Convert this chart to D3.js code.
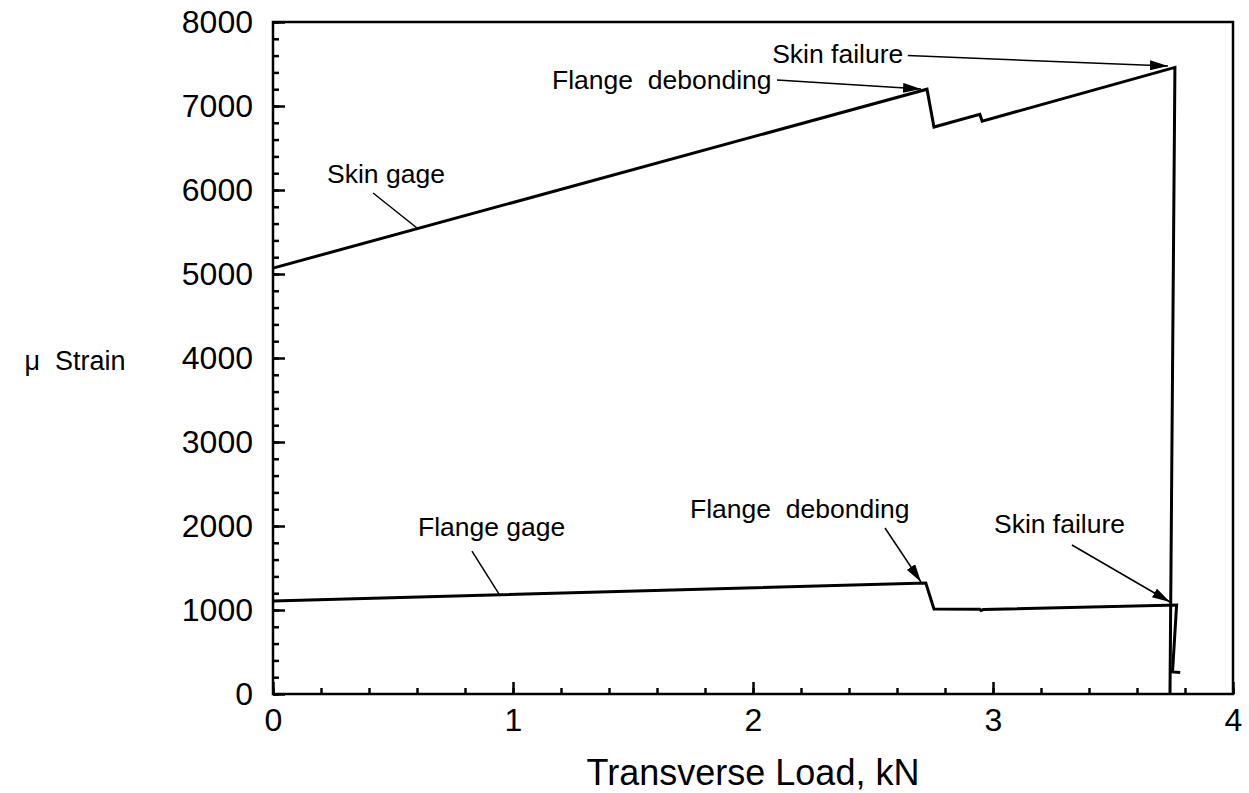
<!DOCTYPE html>
<html>
<head>
<meta charset="utf-8">
<script src="https://cdn.jsdelivr.net/npm/d3@7"></script>
<style>
  body { margin: 0; background: #fff; }
  text { font-family: "Liberation Sans", Arial, sans-serif; fill: #000; }
</style>
</head>
<body>
<div id="chart"></div>
<script>
// Skin gage trace (load kN, micro strain)
const skinLoad   = [0, 2.725, 2.754, 2.945, 2.955, 3.758, 3.7375];
const skinStrain = [5070, 7200, 6750, 6900, 6820, 7460, 0];

// Flange gage trace
const flangeLoad   = [0, 2.72, 2.754, 2.945, 2.95, 2.96, 3.765, 3.748, 3.78];
const flangeStrain = [1107, 1320, 1012, 1010, 995, 1005, 1060, 262, 255];

const xTicks = [0, 1, 2, 3, 4];
const yTicks = [0, 1000, 2000, 3000, 4000, 5000, 6000, 7000, 8000];

// annotations: label, text anchor (load, strain), pointer from -> to, arrowhead?
const annoText  = ["Flange\u00a0 debonding", "Skin failure", "Skin gage", "Flange gage", "Flange\u00a0 debonding", "Skin failure"];
const annoPos   = [[1.1625, 7202], [2.08, 7512], [0.225, 6083], [0.604, 1881], [1.7375, 2095], [3.004, 1917]];
const annoFrom  = [[2.1, 7310], [2.645, 7600], [0.417, 5964], [0.829, 1702], [2.55, 1976], [3.329, 1774]];
const annoTo    = [[2.7, 7202], [3.729, 7476], [0.6, 5548], [0.942, 1190], [2.7, 1333], [3.7375, 1095]];
const annoArrow = [true, true, false, false, true, true];

const W = 1249, H = 793;
const margin = {top: 22, right: 16, bottom: 99, left: 273};
const width = W - margin.left - margin.right,
      height = H - margin.top - margin.bottom;

const svg = d3.select("#chart").append("svg")
    .attr("width", W).attr("height", H);

svg.append("defs").append("marker")
    .attr("id", "head")
    .attr("viewBox", "0 0 18 10")
    .attr("refX", 18).attr("refY", 5)
    .attr("markerWidth", 18).attr("markerHeight", 10)
    .attr("markerUnits", "userSpaceOnUse")
    .attr("orient", "auto")
  .append("path")
    .attr("d", "M0,0 L18,5 L0,10 Z")
    .attr("fill", "#000");

const g = svg.append("g")
    .attr("transform", "translate(" + margin.left + "," + margin.top + ")");

const x = d3.scaleLinear().domain([0, 4]).range([0, width]);
const y = d3.scaleLinear().domain([0, 8000]).range([height, 0]);

// minor ticks
g.append("g")
    .attr("transform", "translate(0," + height + ")")
    .call(d3.axisBottom(x).tickValues(d3.range(0, 4.01, 0.2)).tickSize(-6).tickFormat(""))
    .call(a => a.select(".domain").remove())
    .selectAll("line").attr("stroke-width", 2.5);
g.append("g")
    .call(d3.axisLeft(y).tickValues(d3.range(0, 8001, 200)).tickSize(-6).tickFormat(""))
    .call(a => a.select(".domain").remove())
    .selectAll("line").attr("stroke-width", 2.5);

// major ticks with labels
const xAxis = g.append("g")
    .attr("transform", "translate(0," + height + ")")
    .call(d3.axisBottom(x).tickValues(xTicks).tickSize(-12).tickPadding(14).tickFormat(d3.format("d")));
xAxis.select(".domain").remove();
xAxis.selectAll("line").attr("stroke-width", 2.5);
xAxis.selectAll("text").attr("font-size", 32).attr("font-family", null);

const yAxis = g.append("g")
    .call(d3.axisLeft(y).tickValues(yTicks).tickSize(-12).tickPadding(20).tickFormat(d3.format("d")));
yAxis.select(".domain").remove();
yAxis.selectAll("line").attr("stroke-width", 2.5);
yAxis.selectAll("text").attr("font-size", 32).attr("font-family", null);

// frame
g.append("rect")
    .attr("width", width).attr("height", height)
    .attr("fill", "none").attr("stroke", "#000").attr("stroke-width", 2.5);

// traces
const line = d3.line().x(d => x(d[0])).y(d => y(d[1]));
g.append("path")
    .datum(d3.zip(skinLoad, skinStrain))
    .attr("d", line)
    .attr("fill", "none").attr("stroke", "#000").attr("stroke-width", 3)
    .attr("stroke-linejoin", "miter");
g.append("path")
    .datum(d3.zip(flangeLoad, flangeStrain))
    .attr("d", line)
    .attr("fill", "none").attr("stroke", "#000").attr("stroke-width", 3)
    .attr("stroke-linejoin", "miter");

// annotations
annoText.forEach((t, i) => {
  g.append("text")
      .attr("x", x(annoPos[i][0])).attr("y", y(annoPos[i][1]))
      .attr("font-size", 26.5)
      .style("white-space", "pre")
      .text(t);
  g.append("line")
      .attr("x1", x(annoFrom[i][0])).attr("y1", y(annoFrom[i][1]))
      .attr("x2", x(annoTo[i][0])).attr("y2", y(annoTo[i][1]))
      .attr("stroke", "#000").attr("stroke-width", 1.5)
      .attr("marker-end", annoArrow[i] ? "url(#head)" : null);
});

// axis titles
svg.append("text")
    .attr("x", margin.left + x(2)).attr("y", 785)
    .attr("text-anchor", "middle").attr("font-size", 36)
    .text("Transverse Load, kN");
svg.append("text")
    .attr("x", 75).attr("y", 370)
    .attr("text-anchor", "middle").attr("font-size", 27)
    .style("white-space", "pre")
    .text("\u03bc  Strain");
</script>
</body>
</html>
